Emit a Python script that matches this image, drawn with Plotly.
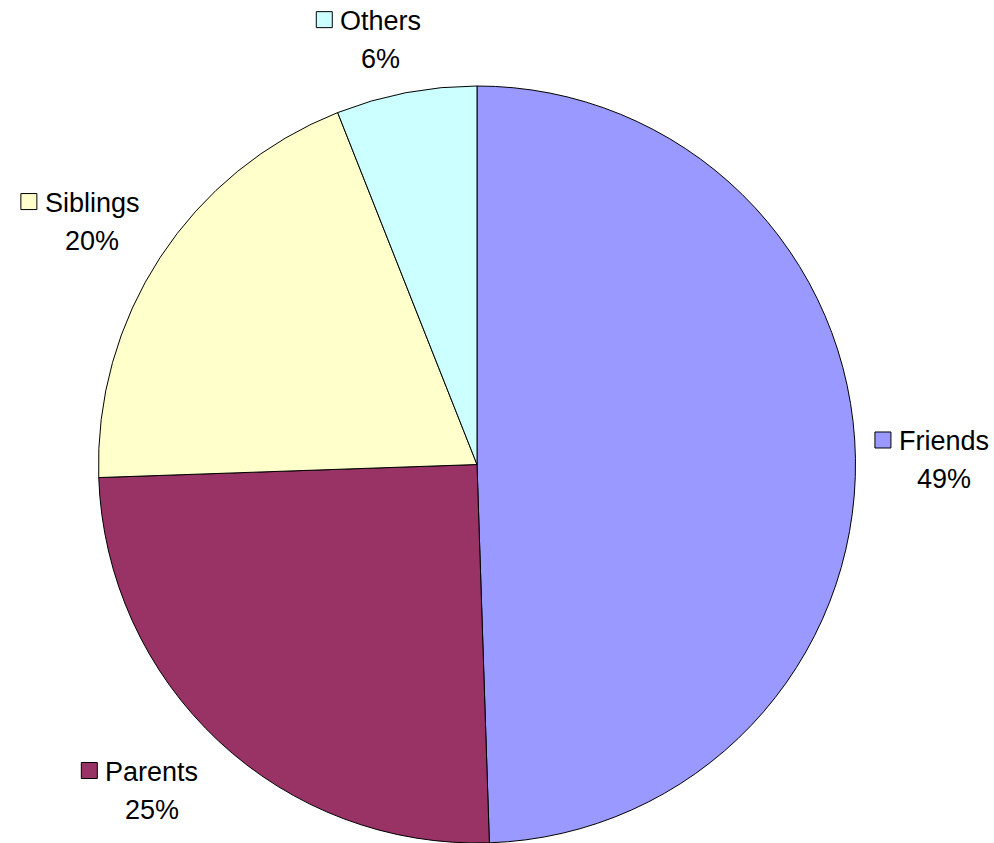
import math
import plotly.graph_objects as go

# ---- data ----
labels = ["Friends", "Parents", "Siblings", "Others"]
values = [49.48, 24.97, 19.55, 6.0]
colors = ["#9999FF", "#993366", "#FFFFCC", "#CCFFFF"]

# ---- layout geometry (window pixels) ----
W, H = 994, 843
ML, MR, MT, MB = 97, 137, 86, 0
PW, PH = W - ML - MR, H - MT - MB
CX, CY = ML + PW / 2, MT + PH / 2
FS = 27
LABEL_R = 460
# small per-label nudges (px) for the external labels
nudge = {"Friends": (-5, 2), "Others": (-22, 26), "Siblings": (-12, 8), "Parents": (-23, -11)}

# Arial advance widths (per 1000 em) for name-width estimation
cw = {"F": 611, "r": 333, "i": 222, "e": 556, "n": 556, "d": 556, "s": 500, "P": 667,
      "a": 556, "t": 278, "S": 667, "b": 556, "l": 222, "g": 556, "O": 778, "h": 556}


def text_w(s):
    return sum(cw.get(c, 556) for c in s) * FS / 1000


def px(x, y):
    # window pixel -> paper coords
    return (x - ML) / PW, (H - MB - y) / PH


fig = go.Figure(go.Pie(
    labels=labels, values=values, sort=False, direction="clockwise", rotation=0,
    marker=dict(colors=colors, line=dict(color="black", width=1)),
    textinfo="none", hoverinfo="label+percent", showlegend=False,
))

total = sum(values)
annotations, shapes = [], []
cum = 0
for lab, v, col in zip(labels, values, colors):
    mid = (cum + v / 2) / total * 2 * math.pi
    cum += v
    dx, dy = nudge[lab]
    bx = CX + LABEL_R * math.sin(mid) + dx
    by = CY - LABEL_R * math.cos(mid) + dy
    nw = text_w(lab)
    bw = 16 + 8 + nw
    left = bx - bw / 2
    ny, py_ = by - 19, by + 19
    x0, y0 = px(left, ny - 8)
    x1, y1 = px(left + 16, ny + 8)
    shapes.append(dict(type="rect", xref="paper", yref="paper", x0=x0, x1=x1, y0=y1, y1=y0,
                       fillcolor=col, line=dict(color="black", width=1)))
    ax, ay = px(left + 22, ny + 1)
    annotations.append(dict(text=lab, x=ax, y=ay, xref="paper", yref="paper", xanchor="left",
                            yanchor="middle", showarrow=False,
                            font=dict(family="Liberation Sans, Arial", size=FS, color="black")))
    pct = round(v / total * 100 + 1e-9)
    pxx, pyy = px(left + 24 + nw / 2, py_ + 1)
    annotations.append(dict(text=f"{pct}%", x=pxx, y=pyy, xref="paper",
                            yref="paper", xanchor="center", yanchor="middle", showarrow=False,
                            font=dict(family="Liberation Sans, Arial", size=FS, color="black")))

fig.update_layout(
    width=W, height=H,
    margin=dict(l=ML, r=MR, t=MT, b=MB, autoexpand=False),
    paper_bgcolor="white", plot_bgcolor="white",
    annotations=annotations, shapes=shapes,
)
fig.write_html(
    "out.html",
    config={"displayModeBar": False},
    post_script="document.body.style.margin='0px';document.body.style.overflow='hidden';",
)
